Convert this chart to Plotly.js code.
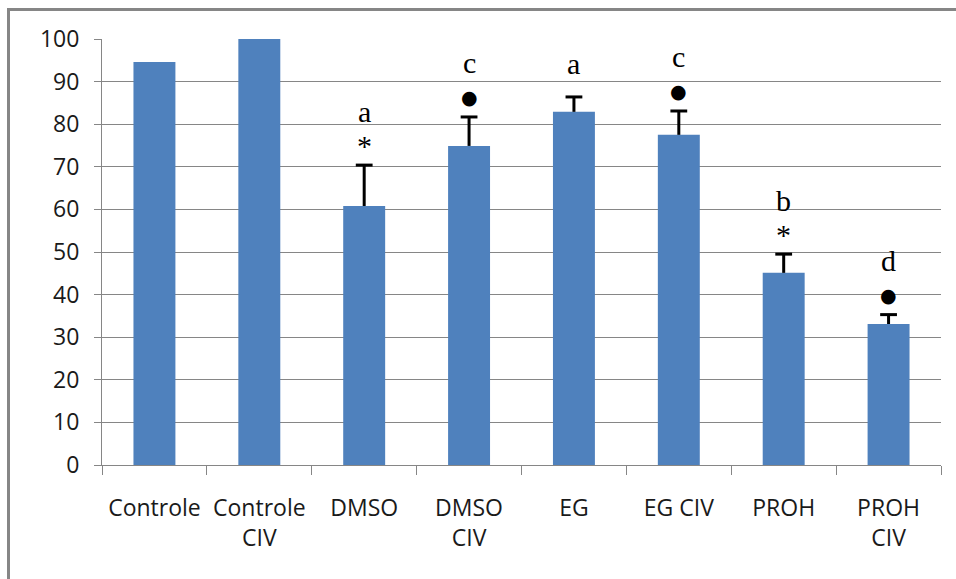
<!DOCTYPE html>
<html>
<head>
<meta charset="utf-8">
<script src="https://cdn.plot.ly/plotly-3.0.1.min.js"></script>
<style>
  html, body { margin: 0; padding: 0; background: #fff; }
  #wrap { position: relative; width: 956px; height: 579px; overflow: hidden; }
  #chart { position: absolute; left: 0; top: 0; width: 956px; height: 579px; }
  #frame { position: absolute; left: 7px; top: 8px; width: 960px; height: 600px;
           border-left: 3px solid #868686; border-top: 3px solid #868686; pointer-events: none; }
</style>
</head>
<body>
<div id="wrap">
  <div id="chart"></div>
  <div id="frame"></div>
</div>
<script>
const categories = ["Controle", "Controle<br>CIV", "DMSO", "DMSO<br>CIV", "EG", "EG CIV", "PROH", "PROH<br>CIV"];
const values = [94.6, 100, 60.8, 74.9, 82.9, 77.5, 45.1, 33.1];
const errors = [null, null, 9.6, 6.8, 3.5, 5.6, 4.4, 2.2];
const letters = ["", "", "a", "c", "a", "c", "b", "d"];
const marks = ["", "", "*", "●", "", "●", "*", "●"];
const yTicks = [0, 10, 20, 30, 40, 50, 60, 70, 80, 90, 100];

const gray = "#868686";

// Bars with the error stem (no caps)
const barTrace = {
  type: "bar",
  x: categories,
  y: values,
  marker: { color: "#4F81BD" },
  error_y: {
    type: "data",
    symmetric: false,
    array: errors.map(e => (e === null ? 0 : e)),
    arrayminus: errors.map(() => 0),
    color: "#000000",
    thickness: 3,
    width: 0
  },
  hoverinfo: "skip"
};

// Error-bar caps (top only), drawn as horizontal line markers at value + error
const capX = [], capY = [];
categories.forEach((c, i) => {
  if (errors[i] !== null) { capX.push(c); capY.push(values[i] + errors[i]); }
});
const capTrace = {
  type: "scatter",
  mode: "markers",
  x: capX,
  y: capY,
  marker: { symbol: "line-ew", size: 12, line: { color: "#000000", width: 3 } },
  hoverinfo: "skip"
};

const annotations = [];
categories.forEach((c, i) => {
  const top = values[i] + (errors[i] || 0);
  if (marks[i]) {
    const isStar = marks[i] === "*";
    annotations.push({
      x: c, y: top, xref: "x", yref: "y",
      text: marks[i], showarrow: false,
      yanchor: "middle", yshift: 20,
      font: isStar ? { family: "Liberation Serif", size: 30, color: "#000" }
                   : { family: "DejaVu Sans", size: 19, color: "#000" }
    });
  }
  if (letters[i]) {
    annotations.push({
      x: c, y: top, xref: "x", yref: "y",
      text: letters[i], showarrow: false,
      yanchor: "middle", yshift: marks[i] ? 54 : 33,
      font: { family: "Liberation Serif", size: 30, color: "#000" }
    });
  }
});

const layout = {
  width: 956, height: 579,
  margin: { l: 102, r: 15, t: 39, b: 114, pad: 0 },
  paper_bgcolor: "#fff", plot_bgcolor: "#fff",
  showlegend: false,
  bargap: 0.6,
  font: { family: "Open Sans", size: 24, color: "#1a1a1a" },
  xaxis: {
    type: "category",
    showline: true, linecolor: gray, linewidth: 1,
    ticks: "outside", tickson: "boundaries", ticklen: 9, tickcolor: gray, tickwidth: 1,
    showgrid: false, zeroline: false,
    tickangle: 0,
    tickfont: { family: "Open Sans", size: 23, color: "#1a1a1a" },
    ticklabelstandoff: 22
  },
  yaxis: {
    range: [0, 100], tickvals: yTicks, ticktext: yTicks.map(String),
    showline: true, linecolor: gray, linewidth: 1,
    ticks: "outside", ticklen: 7, tickcolor: gray, tickwidth: 1,
    showgrid: true, gridcolor: gray, gridwidth: 1,
    zeroline: false,
    tickfont: { family: "Open Sans", size: 23, color: "#1a1a1a" },
    ticklabelstandoff: 10
  },
  annotations: annotations
};

Plotly.newPlot("chart", [barTrace, capTrace], layout, { staticPlot: true, displayModeBar: false });
</script>
</body>
</html>
